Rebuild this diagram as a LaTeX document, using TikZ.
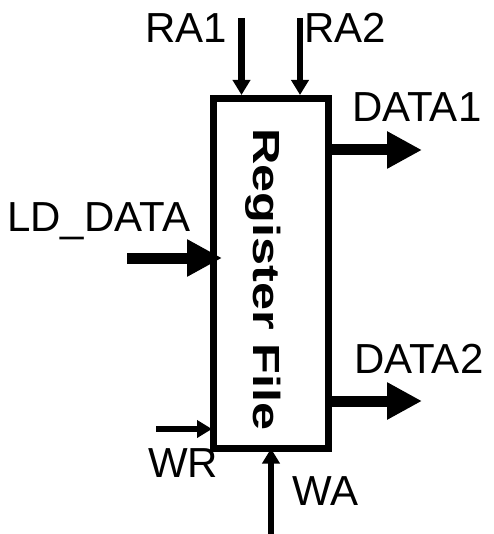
\documentclass[tikz,border=0pt]{standalone}
\usepackage{fontspec}
\setmainfont{Liberation Sans}
\usetikzlibrary{arrows.meta}
\tikzset{
  lbl/.style={inner sep=0pt, anchor=base west, font=\fontsize{42}{50}\selectfont},
  thinarrow/.style={line width=6.5pt, -{Triangle[length=15pt,width=17pt]}},
  thickarrow/.style={line width=11pt, -{Triangle[length=35pt,width=35pt]}},
  regbox/.style={draw, line width=7pt, inner sep=0pt, minimum width=115pt, minimum height=349.5pt},
}
\begin{document}
\begin{tikzpicture}[x=1pt,y=-1pt]
\useasboundingbox (0,0) rectangle (493,534);
\node[regbox] (rf) at (271,273.25) {};
\node[inner sep=0pt, anchor=base, rotate=-90, font=\bfseries\fontsize{42}{48}\selectfont] (rflabel) at (253,279.5) {\scalebox{1.2}[0.9]{Register File}};
% free ends
\coordinate (ra1) at (241.5,18);
\coordinate (ra2) at (300,18);
\coordinate (ld) at (127,258);
\coordinate (wr) at (156,429);
\coordinate (wa) at (271,534);
\coordinate (d1) at (422,150);
\coordinate (d2) at (422,401);
% arrows
\draw[thinarrow] (ra1) -- (ra1 |- rf.north);
\draw[thinarrow] (ra2) -- (ra2 |- rf.north);
\draw[thinarrow, shorten >=-2pt] (wr) -- (wr -| rf.west);
\draw[thinarrow, shorten >=-3pt] (wa) -- (wa |- rf.south);
\draw[thickarrow, shorten >=-12pt] (ld) -- (ld -| rf.west);
\draw[thickarrow] (d1 -| rf.east) -- (d1);
\draw[thickarrow] (d2 -| rf.east) -- (d2);
% labels
\node[lbl] (lra1) at (145,43) {RA1};
\node[lbl] (lra2) at (304,43) {RA2};
\node[lbl] (ld1) at (352,122) {DATA1};
\node[lbl] (ld2) at (354,373) {DATA2};
\node[lbl] (lld) at (7,232) {LD\_DATA};
\node[lbl] (lwr) at (148,477) {WR};
\node[lbl] (lwa) at (292,505) {WA};
\end{tikzpicture}
\end{document}
